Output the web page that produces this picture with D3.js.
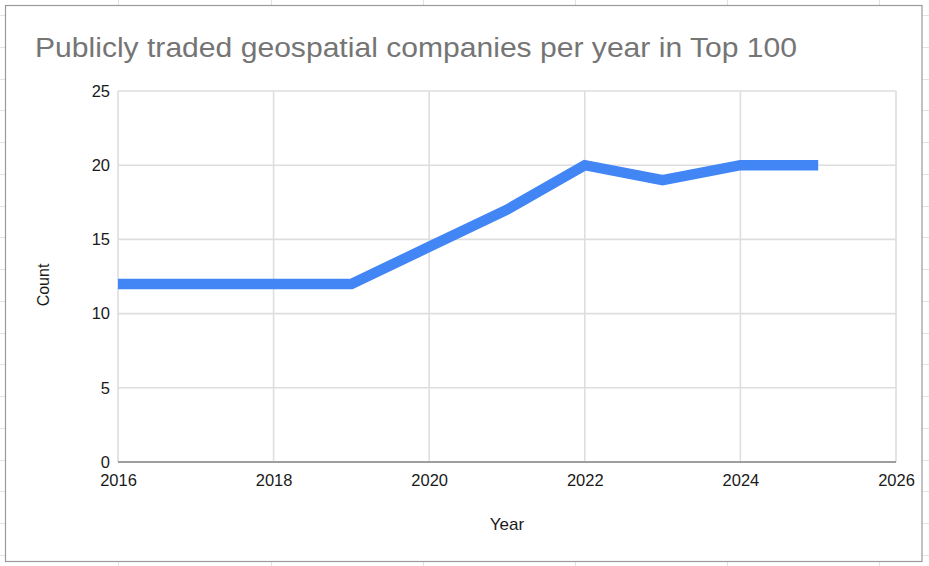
<!DOCTYPE html>
<html>
<head>
<meta charset="utf-8">
<script src="https://cdn.jsdelivr.net/npm/d3@7/dist/d3.min.js"></script>
<style>
  html, body { margin: 0; padding: 0; background: #fff; }
  svg { display: block; }
  text { font-family: Arial, "Liberation Sans", sans-serif; }
</style>
</head>
<body>
<svg id="chart" width="929" height="566"></svg>
<script>
const years = [2016, 2017, 2018, 2019, 2020, 2021, 2022, 2023, 2024, 2025];
const counts = [12, 12, 12, 12, 14.5, 17, 20, 19, 20, 20];
const xTicks = [2016, 2018, 2020, 2022, 2024, 2026];
const yTicks = [0, 5, 10, 15, 20, 25];
const title = "Publicly traded geospatial companies per year in Top 100";
const xTitle = "Year";
const yTitle = "Count";

const W = 929, H = 566;
const svg = d3.select("#chart");
svg.append("rect").attr("width", W).attr("height", H).attr("fill", "#fff");

// spreadsheet background grid
const sheet = svg.append("g").attr("stroke", "#e2e2e2").attr("stroke-width", 1);
[118, 271, 423, 575, 727, 879].forEach(v => {
  sheet.append("line").attr("x1", v + 0.5).attr("x2", v + 0.5).attr("y1", 0).attr("y2", H);
});
d3.range(0, 18).forEach(k => {
  const v = Math.round(15 + 31.75 * k) + 0.5;
  sheet.append("line").attr("x1", 0).attr("x2", W).attr("y1", v).attr("y2", v);
});

// chart frame
svg.append("rect").attr("x", 5.5).attr("y", 5.5).attr("width", 916.5).attr("height", 556)
  .attr("fill", "#fff").attr("stroke", "#9a9a9a").attr("stroke-width", 1.2);

const x = d3.scaleLinear().domain([2016, 2026]).range([118, 896]);
const y = d3.scaleLinear().domain([0, 25]).range([462, 91]);

// gridlines
const grid = svg.append("g");
grid.selectAll("line.v").data(xTicks).join("line").attr("class", "v")
  .attr("x1", d => x(d)).attr("x2", d => x(d)).attr("y1", y(25)).attr("y2", y(0))
  .attr("stroke", "#dedede").attr("stroke-width", 1.6);
grid.selectAll("line.h").data(yTicks.filter(d => d > 0)).join("line").attr("class", "h")
  .attr("x1", x(2016)).attr("x2", x(2026)).attr("y1", d => y(d)).attr("y2", d => y(d))
  .attr("stroke", "#dedede").attr("stroke-width", 1.6);

// baseline
svg.append("line").attr("x1", x(2016)).attr("x2", x(2026)).attr("y1", y(0)).attr("y2", y(0))
  .attr("stroke", "#9e9e9e").attr("stroke-width", 2.2);

// axes (labels only)
const xAxis = d3.axisBottom(x).tickValues(xTicks).tickFormat(d3.format("d")).tickSize(0).tickPadding(12);
const gx = svg.append("g").attr("transform", `translate(0,${y(0)})`).call(xAxis);
gx.select(".domain").remove();
gx.selectAll("text").attr("font-size", 16.5).attr("fill", "#1a1a1a").attr("font-family", "Arial, 'Liberation Sans', sans-serif");

const yAxis = d3.axisLeft(y).tickValues(yTicks).tickSize(0).tickPadding(8);
const gy = svg.append("g").attr("transform", `translate(${x(2016)},0)`).call(yAxis);
gy.select(".domain").remove();
gy.selectAll("text").attr("font-size", 16.5).attr("fill", "#1a1a1a").attr("font-family", "Arial, 'Liberation Sans', sans-serif");

// line
const line = d3.line().x((d, i) => x(years[i])).y(d => y(d));
svg.append("path").datum(counts).attr("d", line)
  .attr("fill", "none").attr("stroke", "#4285f4").attr("stroke-width", 10.5)
  .attr("stroke-linejoin", "miter").attr("stroke-linecap", "butt");

// titles
svg.append("text").attr("x", 35).attr("y", 57).text(title)
  .attr("font-size", 27.5).attr("fill", "#757575")
  .attr("textLength", 762).attr("lengthAdjust", "spacingAndGlyphs");

svg.append("text").attr("x", 507).attr("y", 530).attr("text-anchor", "middle")
  .text(xTitle).attr("font-size", 17).attr("fill", "#1a1a1a");

svg.append("text").attr("transform", "translate(48.5,285) rotate(-90)").attr("text-anchor", "middle")
  .text(yTitle).attr("font-size", 16).attr("fill", "#1a1a1a");
</script>
</body>
</html>
